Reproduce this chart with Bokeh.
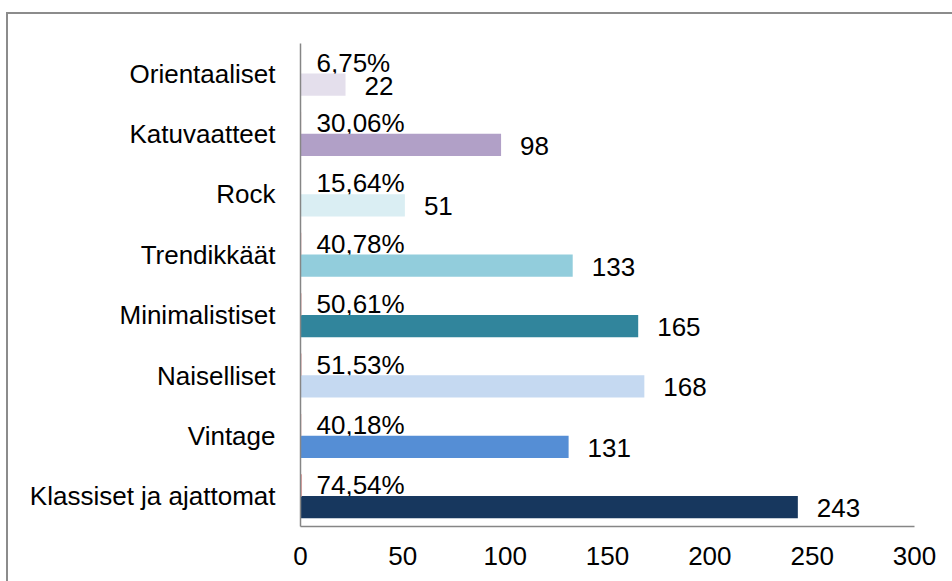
from bokeh.plotting import figure
from bokeh.models import ColumnDataSource, Range1d, FixedTicker, InlineStyleSheet
from bokeh.core.properties import value
from bokeh.embed import file_html
from bokeh.resources import INLINE

# Data (top to bottom as shown)
categories = ["Orientaaliset", "Katuvaatteet", "Rock", "Trendikkäät",
              "Minimalistiset", "Naiselliset", "Vintage", "Klassiset ja ajattomat"]
counts = [22, 98, 51, 133, 165, 168, 131, 243]
percents = [6.75, 30.06, 15.64, 40.78, 50.61, 51.53, 40.18, 74.54]
bar_colors = ["#e4dfec", "#b1a0c7", "#daeef3", "#92cddc",
              "#31859c", "#c5d9f1", "#558ed5", "#17375e"]
x_ticks = [0, 50, 100, 150, 200, 250, 300]

n = len(categories)
ypos = [n - 1 - i for i in range(n)]
pct_labels = [f"{v:.2f}".replace(".", ",") + "%" for v in percents]
cnt_labels = [str(c) for c in counts]
pct_frac = [v / 100 for v in percents]

FONT = "Liberation Sans"
FS = "26px"
OFF = 0.18
H = 0.37

src = ColumnDataSource(dict(
    y=ypos,
    yc=[y - OFF for y in ypos],
    yp=[y + OFF for y in ypos],
    count=counts,
    frac=pct_frac,
    color=bar_colors,
    pl=pct_labels,
    cl=cnt_labels,
    zero=[0] * n,
))

p = figure(width=952, height=581, output_backend="svg", toolbar_location=None,
           x_range=Range1d(0, 300), y_range=Range1d(-0.5, n - 0.5),
           min_border_left=300, min_border_right=38, min_border_top=43,
           min_border_bottom=55)
p.outline_line_color = None
p.xgrid.visible = False
p.ygrid.visible = False
p.background_fill_color = "white"
p.border_fill_color = "white"

# percentage labels (drawn first so that bars overlap them)
p.text(x="zero", y="y", text="pl", source=src, x_offset=16, y_offset=-11,
       text_align="left", text_baseline="middle",
       text_font=value(FONT), text_font_size=FS, text_color="black")

# count bars
p.hbar(y="yc", right="count", left=0, height=H, source=src,
       fill_color="color", line_color=None)
# percentage bars (fractions, nearly zero width)
p.hbar(y="yp", right="frac", left=0, height=H, source=src,
       fill_color="#e6a5a3", line_color=None)

# count labels
p.text(x="count", y="yc", text="cl", source=src, x_offset=19, y_offset=1,
       text_align="left", text_baseline="middle",
       text_font=value(FONT), text_font_size=FS, text_color="black")

# axes
for ax in (p.xaxis[0], p.yaxis[0]):
    ax.axis_line_color = "#868686"
    ax.axis_line_width = 1.5
    ax.major_tick_line_color = None
    ax.minor_tick_line_color = None
    ax.major_label_text_font = FONT
    ax.major_label_text_font_size = FS
    ax.major_label_text_color = "black"

p.xaxis.ticker = FixedTicker(ticks=x_ticks)
p.xaxis.major_label_standoff = 14
p.yaxis.ticker = FixedTicker(ticks=ypos)
p.yaxis.major_label_overrides = {y: c for y, c in zip(ypos, categories)}
p.yaxis.major_label_standoff = 19

# outer chart border (extends past the window on right and bottom)
p.stylesheets = [InlineStyleSheet(css="""
:host { position: relative; }
:host::after {
  content: "";
  position: absolute;
  left: 6px; top: 12px;
  width: 2000px; height: 2000px;
  border: 2px solid #8c8c8c;
  pointer-events: none;
  box-sizing: border-box;
}
""")]

open("out.html", "w").write(file_html(p, INLINE))
